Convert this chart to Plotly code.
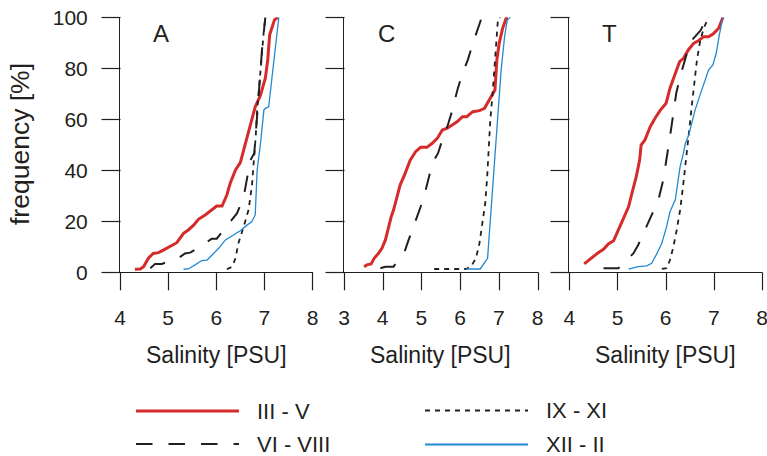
import plotly.graph_objects as go

W, H = 767, 456

# ---------------- data ----------------
A_III_V_x = [4.31, 4.42, 4.49, 4.59, 4.69, 4.80, 4.90, 5.04, 5.18, 5.32, 5.42, 5.53, 5.63, 5.77, 5.91, 6.01, 6.12, 6.22, 6.29, 6.40, 6.50, 6.60, 6.71, 6.81, 6.92, 7.02, 7.07, 7.11, 7.21, 7.28]
A_III_V_y = [1.2, 1.3, 2.2, 5.5, 7.4, 7.7, 8.7, 10.0, 11.6, 15.3, 16.6, 18.5, 20.8, 22.5, 24.7, 26.0, 26.0, 30.3, 34.9, 40.1, 43.0, 50.6, 57.8, 64.9, 69.5, 76.1, 83.3, 93.1, 99.0, 100]
A_VI_VIII_x = [4.63, 4.73, 4.87, 5.21, 5.35, 5.46, 5.77, 5.91, 6.01, 6.26, 6.43, 6.57, 6.64, 6.71, 6.79, 6.85, 6.90, 6.95, 6.99, 7.02]
A_VI_VIII_y = [1.6, 3.3, 3.3, 5.5, 7.4, 7.7, 11.4, 13.2, 13.2, 19.2, 23.1, 29.6, 36.2, 44.0, 46.7, 63.6, 74.1, 87.2, 93.7, 100]
A_IX_XI_x = [6.22, 6.33, 6.40, 6.46, 6.57, 6.67, 6.74, 6.79, 6.82, 6.85, 6.90, 6.95, 6.99, 7.02]
A_IX_XI_y = [1.2, 2.2, 5.5, 11.4, 17.9, 24.4, 33.6, 44.0, 53.2, 63.6, 76.7, 85.9, 95.0, 100]
A_XII_II_x = [5.32, 5.42, 5.56, 5.70, 5.81, 5.94, 6.05, 6.19, 6.36, 6.50, 6.64, 6.74, 6.81, 6.85, 6.92, 6.99, 7.02, 7.09, 7.16, 7.23, 7.30]
A_XII_II_y = [1.2, 1.3, 2.9, 4.6, 4.8, 7.4, 9.4, 12.7, 14.6, 16.3, 18.5, 19.9, 22.5, 40.1, 50.6, 63.6, 64.3, 64.9, 76.7, 88.5, 100]

C_III_V_x = [3.52, 3.59, 3.70, 3.78, 3.89, 3.98, 4.07, 4.15, 4.22, 4.28, 4.37, 4.45, 4.58, 4.71, 4.85, 4.98, 5.14, 5.28, 5.41, 5.54, 5.67, 5.80, 5.93, 6.06, 6.17, 6.33, 6.50, 6.63, 6.73, 6.84, 6.90, 6.95, 7.01, 7.10, 7.19, 7.23]
C_III_V_y = [2.2, 2.9, 3.3, 5.5, 7.4, 9.4, 12.7, 17.9, 21.8, 24.4, 29.6, 34.2, 38.8, 44.0, 47.3, 49.0, 49.0, 50.6, 52.5, 55.8, 56.5, 57.8, 59.1, 61.0, 61.0, 63.0, 63.4, 64.3, 66.9, 70.2, 71.5, 83.3, 89.8, 95.7, 99.6, 100]
C_VI_VIII_x = [3.94, 4.07, 4.28, 4.58, 4.67, 4.85, 4.98, 5.11, 5.24, 5.33, 5.43, 5.54, 5.67, 5.80, 5.93, 6.06, 6.20, 6.33, 6.41, 6.50, 6.56]
C_VI_VIII_y = [1.6, 2.2, 2.2, 8.7, 12.7, 20.5, 25.7, 32.3, 40.1, 44.0, 46.7, 51.9, 57.1, 63.6, 71.5, 78.0, 83.3, 89.8, 93.1, 97.6, 100]
C_IX_XI_x = [5.33, 5.76, 6.15, 6.28, 6.41, 6.50, 6.58, 6.65, 6.70, 6.73, 6.78, 6.84, 6.90, 6.95, 6.98, 7.04]
C_IX_XI_y = [1.3, 1.3, 1.3, 2.2, 5.5, 11.4, 19.2, 27.1, 37.5, 48.0, 59.7, 70.2, 82.0, 92.4, 99.6, 100]
C_XII_II_x = [6.15, 6.52, 6.71, 6.80, 6.89, 6.98, 7.06, 7.15, 7.22, 7.30]
C_XII_II_y = [1.3, 1.3, 5.5, 24.4, 44.0, 63.6, 79.3, 92.4, 99.0, 100]

T_III_V_x = [4.31, 4.40, 4.50, 4.60, 4.71, 4.81, 4.92, 5.02, 5.12, 5.23, 5.30, 5.39, 5.46, 5.49, 5.57, 5.68, 5.78, 5.89, 6.01, 6.09, 6.20, 6.29, 6.37, 6.47, 6.58, 6.68, 6.79, 6.89, 6.99, 7.10, 7.19]
T_III_V_y = [3.3, 4.6, 6.4, 7.7, 9.0, 11.1, 12.4, 16.6, 20.5, 25.7, 31.0, 37.5, 44.0, 49.9, 51.9, 57.1, 60.4, 63.6, 66.3, 72.2, 78.0, 82.6, 83.9, 87.2, 89.8, 90.8, 92.4, 92.4, 93.5, 95.7, 100]
T_VI_VIII_x = [4.71, 5.02, 5.26, 5.33, 5.43, 5.57, 5.71, 5.85, 5.95, 6.03, 6.09, 6.15, 6.22, 6.30, 6.41, 6.51, 6.61, 6.68, 6.73, 6.85]
T_VI_VIII_y = [1.6, 1.6, 6.1, 7.4, 10.7, 16.6, 22.5, 28.4, 36.2, 45.3, 53.2, 61.0, 70.2, 76.7, 83.9, 90.4, 92.4, 93.7, 95.0, 100]
T_IX_XI_x = [5.92, 6.02, 6.09, 6.16, 6.23, 6.30, 6.36, 6.41, 6.44, 6.49, 6.54, 6.59, 6.65, 6.72, 6.79, 6.89]
T_IX_XI_y = [1.3, 1.6, 4.8, 10.0, 16.6, 24.4, 33.6, 41.4, 48.0, 55.8, 64.9, 74.1, 83.3, 91.1, 95.7, 100]
T_XII_II_x = [5.23, 5.33, 5.43, 5.61, 5.71, 5.82, 5.92, 6.02, 6.09, 6.20, 6.25, 6.30, 6.37, 6.41, 6.48, 6.54, 6.61, 6.68, 6.75, 6.82, 6.89, 6.98, 7.05, 7.12, 7.19]
T_XII_II_y = [1.2, 1.6, 2.2, 2.5, 3.5, 7.4, 11.4, 17.9, 23.8, 28.4, 34.9, 41.4, 46.7, 50.6, 53.8, 58.4, 63.6, 67.6, 71.5, 75.4, 79.3, 81.3, 85.9, 93.7, 100]

panel_labels = ["A", "C", "T"]
x_ranges = [[4, 8], [3, 8], [4, 8]]
y_range = [0, 100]
x_ticks = [[4, 5, 6, 7, 8], [3, 4, 5, 6, 7, 8], [4, 5, 6, 7, 8]]
y_ticks = [0, 20, 40, 60, 80, 100]
series_names = ["III - V", "VI - VIII", "IX - XI", "XII - II"]
x_title = "Salinity [PSU]"
y_title = "frequency [%]"

panels = [
    [(A_III_V_x, A_III_V_y), (A_VI_VIII_x, A_VI_VIII_y), (A_IX_XI_x, A_IX_XI_y), (A_XII_II_x, A_XII_II_y)],
    [(C_III_V_x, C_III_V_y), (C_VI_VIII_x, C_VI_VIII_y), (C_IX_XI_x, C_IX_XI_y), (C_XII_II_x, C_XII_II_y)],
    [(T_III_V_x, T_III_V_y), (T_VI_VIII_x, T_VI_VIII_y), (T_IX_XI_x, T_IX_XI_y), (T_XII_II_x, T_XII_II_y)],
]

# ---------------- styles ----------------
RED = "#d52b2b"
BLUE = "#2289d0"
INK = "#231f20"
FONT = "Liberation Sans"
styles = [
    dict(color=RED, width=3, dash="solid"),
    dict(color=INK, width=2, dash="16.5px,16px"),
    dict(color=INK, width=1.8, dash="5px,5px"),
    dict(color=BLUE, width=1.3, dash="solid"),
]
leg_widths = [3, 2, 1.8, 2.2]

# pixel layout of the three panels
px_dom = [(120, 312.5), (344, 537.5), (569.3, 762)]
py_top, py_bot = 17.3, 272.3
TICK = 18


def fx(p):
    return p / W


def fy(p):
    return 1 - p / H


fig = go.Figure()
for i, series in enumerate(panels):
    xa = "x" if i == 0 else f"x{i+1}"
    ya = "y" if i == 0 else f"y{i+1}"
    for j, (xs, ys) in enumerate(series):
        fig.add_trace(go.Scatter(x=xs, y=ys, mode="lines", line=styles[j],
                                 name=series_names[j], xaxis=xa, yaxis=ya))

# tick marks, mapped from the tick values through each panel's scale onto a page-pixel overlay axis
tx, ty = [], []
for i in range(3):
    x0p, x1p = px_dom[i]
    r0, r1 = x_ranges[i]
    for v in x_ticks[i]:
        p = round(x0p + (v - r0) / (r1 - r0) * (x1p - x0p)) + 0.5
        tx += [p, p, None]
        ty += [py_bot, py_bot + TICK, None]
    ax_x = round(x0p) + 0.5
    for v in y_ticks:
        q = round(py_bot - (v - y_range[0]) / (y_range[1] - y_range[0]) * (py_bot - py_top)) + 0.5
        tx += [ax_x - TICK - 1, ax_x, None]
        ty += [q, q, None]
fig.add_trace(go.Scatter(x=tx, y=ty, mode="lines", line=dict(color=INK, width=1.2),
                         xaxis="x4", yaxis="y4", hoverinfo="skip", connectgaps=False))

# legend key lines on the same overlay axis
leg = [  # (x0, x1, y, text_x)
    (136, 239, 411, 255),
    (136, 239, 444, 255),
    (425, 528, 410.5, 544),
    (425, 528, 444.5, 544),
]
for j, (x0, x1, yy, txx) in enumerate(leg):
    fig.add_trace(go.Scatter(x=[x0, x1], y=[yy, yy], mode="lines",
                             line=dict(color=styles[j]["color"], width=leg_widths[j],
                                       dash=styles[j]["dash"]),
                             xaxis="x4", yaxis="y4", hoverinfo="skip"))

layout = dict(width=W, height=H, margin=dict(l=0, r=0, t=0, b=0, pad=0, autoexpand=False),
              plot_bgcolor="rgba(0,0,0,0)", paper_bgcolor="white", showlegend=False)
for i in range(3):
    sx = "" if i == 0 else str(i + 1)
    layout["xaxis" + sx] = dict(domain=[fx(px_dom[i][0]), fx(px_dom[i][1])], range=x_ranges[i],
                                ticks="outside", ticklen=TICK, tickwidth=1,
                                tickcolor="rgba(0,0,0,0)",
                                showline=True, linecolor=INK, anchor="y" + sx,
                                tickmode="array", tickvals=x_ticks[i],
                                showgrid=False, zeroline=False, automargin=False,
                                ticklabeloverflow="allow",
                                tickfont=dict(family=FONT, size=21, color=INK),
                                ticklabelstandoff=8)
    layout["yaxis" + sx] = dict(domain=[fy(py_bot), fy(py_top)], range=y_range,
                                ticks="outside", ticklen=TICK + 9, tickwidth=1,
                                tickcolor="rgba(0,0,0,0)",
                                showline=True, linecolor=INK, anchor="x" + sx,
                                tickmode="array", tickvals=y_ticks,
                                showgrid=False, zeroline=False, automargin=False,
                                ticklabeloverflow="allow",
                                showticklabels=(i == 0),
                                tickfont=dict(family=FONT, size=21, color=INK))
layout["xaxis4"] = dict(domain=[0, 1], range=[0, W], visible=False, anchor="y4",
                        fixedrange=True, automargin=False)
layout["yaxis4"] = dict(domain=[0, 1], range=[H, 0], visible=False, anchor="x4",
                        fixedrange=True, automargin=False)
fig.update_layout(**layout)

annotations = []
letter_pos = [(161, 33.5), (386.5, 33.5), (609.5, 33.5)]
for i in range(3):
    annotations.append(dict(text=panel_labels[i], x=fx(letter_pos[i][0]), y=fy(letter_pos[i][1]),
                            xref="paper", yref="paper", showarrow=False, xanchor="center",
                            yanchor="middle", font=dict(family=FONT, size=24, color=INK)))
    annotations.append(dict(text=x_title, x=fx((px_dom[i][0] + px_dom[i][1]) / 2), y=fy(355),
                            xref="paper", yref="paper", showarrow=False, xanchor="center",
                            yanchor="middle", font=dict(family=FONT, size=23, color=INK)))
annotations.append(dict(text=y_title, x=fx(20), y=fy(144), xref="paper", yref="paper",
                        showarrow=False, textangle=-90, xanchor="center", yanchor="middle",
                        font=dict(family=FONT, size=26.5, color=INK)))
for j, (x0, x1, yy, txx) in enumerate(leg):
    annotations.append(dict(text=series_names[j], x=fx(txx), y=fy(yy), xref="paper", yref="paper",
                            showarrow=False, xanchor="left", yanchor="middle",
                            font=dict(family=FONT, size=22, color=INK)))

fig.update_layout(annotations=annotations)
fig.write_html("out.html")
